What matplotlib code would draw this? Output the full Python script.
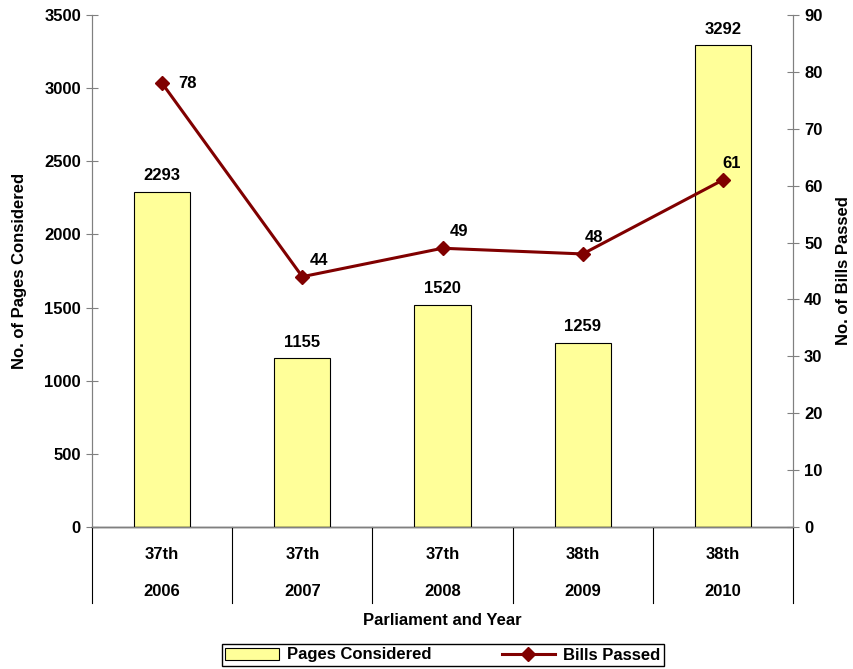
import matplotlib.pyplot as plt
from matplotlib.lines import Line2D
from matplotlib.patches import Patch

plt.rcParams['font.family'] = ['Liberation Sans', 'DejaVu Sans']
plt.rcParams['font.weight'] = 'bold'

parliament = ['37th', '37th', '37th', '38th', '38th']
years = ['2006', '2007', '2008', '2009', '2010']
pages = [2293, 1155, 1520, 1259, 3292]
bills = [78, 44, 49, 48, 61]

x = list(range(len(years)))
grey = '#808080'
red = '#800000'
fs = 12

fig = plt.figure(figsize=(8.54, 6.69), dpi=100)
ax = fig.add_axes([92/854, 1 - 527/669, (793 - 92)/854, (527 - 15)/669])
ax2 = ax.twinx()

ax.bar(x, pages, width=0.4, color='#FFFF99', edgecolor='black', linewidth=0.8, zorder=2)
for xi, v in zip(x, pages):
    ax.annotate(str(v), (xi, v), xytext=(0, 6), textcoords='offset points',
                ha='center', va='bottom', fontsize=fs, fontweight='bold')

ax2.plot(x, bills, color=red, linewidth=2.2, marker='D', markersize=7.5, zorder=3)
offs = [(18, 0), (12, 12), (12, 12), (8, 12), (6, 12)]
for xi, v, o in zip(x, bills, offs):
    ax2.annotate(str(v), (xi, v), xytext=o, textcoords='offset points',
                 ha='center', va='center', fontsize=fs, fontweight='bold')

ax.set_xlim(-0.5, 4.5)
ax.set_ylim(0, 3500)
ax2.set_ylim(0, 90)
ax.set_yticks(range(0, 3501, 500))
ax2.set_yticks(range(0, 91, 10))

for a in (ax, ax2):
    a.spines['top'].set_visible(False)
    for s in ('left', 'right', 'bottom'):
        a.spines[s].set_color(grey)
    a.tick_params(axis='y', direction='inout', length=8, color=grey,
                  labelsize=fs, pad=4)
ax.spines['bottom'].set_color('black')
ax.spines['bottom'].set_linewidth(1.0)

ax.set_xticks([])
ax.patch.set_visible(False)

# category table under the axis
for b in [i - 0.5 for i in range(len(years) + 1)]:
    ax.plot([b, b], [0, -520], color='black', linewidth=0.8, clip_on=False)
for xi, p, yr in zip(x, parliament, years):
    ax.text(xi, -190, p, ha='center', va='center', fontsize=fs, fontweight='bold')
    ax.text(xi, -440, yr, ha='center', va='center', fontsize=fs, fontweight='bold')
ax.text(2, -640, 'Parliament and Year', ha='center', va='center',
        fontsize=fs, fontweight='bold')

ax.set_ylabel('No. of Pages Considered', fontsize=fs, fontweight='bold', labelpad=12)
ax2.set_ylabel('No. of Bills Passed', fontsize=fs, fontweight='bold', labelpad=10)

handles = [Patch(facecolor='#FFFF99', edgecolor='black', linewidth=0.8),
           Line2D([], [], color=red, linewidth=2.2, marker='D', markersize=7)]
leg = fig.legend(handles, ['Pages Considered', 'Bills Passed'], loc='center',
                 bbox_to_anchor=(443/854, 1 - 655/669), ncol=2, fancybox=False,
                 edgecolor='black', fontsize=fs, handlelength=3.2, handletextpad=0.5,
                 columnspacing=4.2, borderpad=0.2, framealpha=1)
leg.get_frame().set_linewidth(1.0)

fig.savefig('out.png', dpi=100)
